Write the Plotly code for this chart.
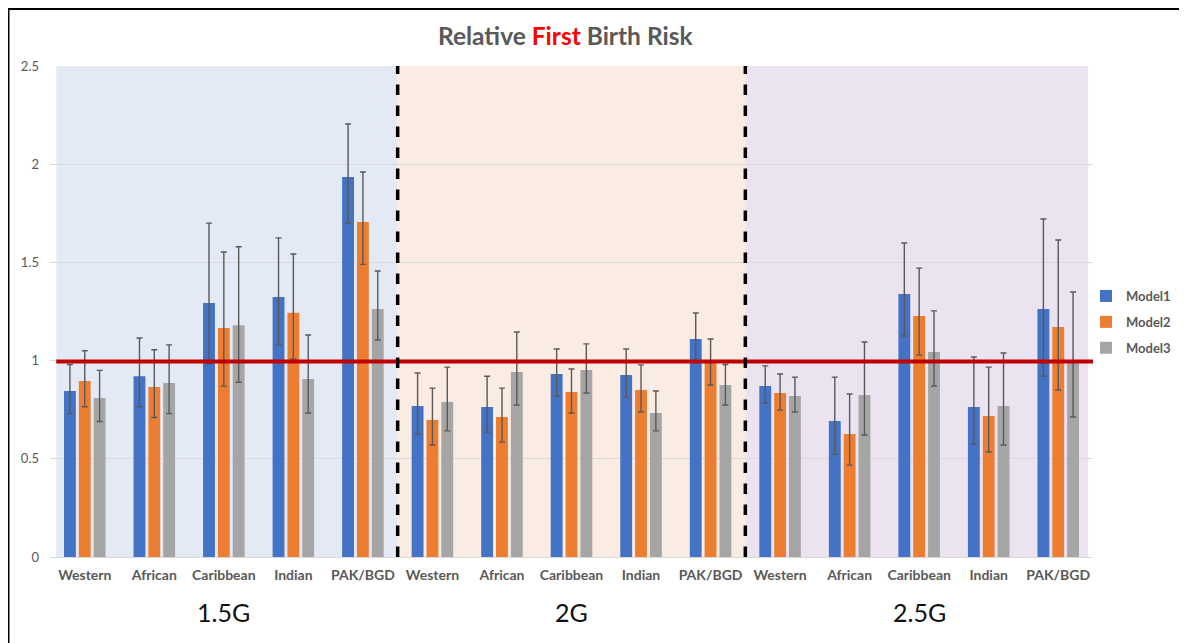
import plotly.graph_objects as go

# ---- data ----
groups = ["1.5G", "2G", "2.5G"]
ethnicities = ["Western", "African", "Caribbean", "Indian", "PAK/BGD"]
categories = ethnicities * 3
series_names = ["Model1", "Model2", "Model3"]

model1 = [0.845, 0.92, 1.293, 1.324, 1.935,
          0.769, 0.764, 0.932, 0.927, 1.11,
          0.871, 0.692, 1.339, 0.764, 1.263]
model1_hi = [0.98, 1.115, 1.70, 1.625, 2.205,
             0.937, 0.92, 1.059, 1.059, 1.242,
             0.973, 0.916, 1.599, 1.018, 1.721]
model1_lo = [0.73, 0.765, 0.985, 1.08, 1.70,
             0.626, 0.636, 0.82, 0.814, 0.993,
             0.784, 0.524, 1.125, 0.575, 0.92]

model2 = [0.896, 0.866, 1.166, 1.243, 1.706,
          0.698, 0.713, 0.84, 0.85, 0.997,
          0.835, 0.626, 1.227, 0.718, 1.171]
model2_hi = [1.05, 1.055, 1.553, 1.543, 1.96,
             0.86, 0.86, 0.957, 0.978, 1.11,
             0.932, 0.83, 1.471, 0.967, 1.614]
model2_lo = [0.765, 0.71, 0.87, 1.008, 1.49,
             0.57, 0.585, 0.733, 0.738, 0.876,
             0.748, 0.468, 1.028, 0.535, 0.85]

model3 = [0.81, 0.886, 1.18, 0.906, 1.263,
          0.789, 0.942, 0.952, 0.733, 0.876,
          0.82, 0.825, 1.044, 0.769, 0.988]
model3_hi = [0.95, 1.08, 1.58, 1.13, 1.456,
             0.967, 1.146, 1.085, 0.845, 0.98,
             0.916, 1.095, 1.253, 1.039, 1.349]
model3_lo = [0.69, 0.73, 0.89, 0.733, 1.105,
             0.642, 0.774, 0.835, 0.642, 0.774,
             0.738, 0.621, 0.871, 0.57, 0.713]

y_ticks = [0, 0.5, 1, 1.5, 2, 2.5]
reference_value = 1.0

colors = ["#4472C4", "#ED7D31", "#A5A5A5"]
group_bg = ["#E4EAF5", "#FBECE3", "#EBE3F0"]

# The page body has an 8px margin, so figure coords = page coords - 8
OFF = 8
W, H = 1187 - OFF, 643 - OFF
ML = 50 - OFF
MR = W - (1093 - OFF)
MT = 66 - OFF
MB = H - (557 - OFF)
PW = W - ML - MR
PH = H - MT - MB
FONT = "Lato, Open Sans, sans-serif"

def px_x(p):  # page px -> paper x
    return (p - OFF - ML) / PW

def px_y(p):  # page px -> paper y
    return (H - MB - (p - OFF)) / PH

x_idx = list(range(len(categories)))

fig = go.Figure()
for name, vals, hi, lo, col in [
    (series_names[0], model1, model1_hi, model1_lo, colors[0]),
    (series_names[1], model2, model2_hi, model2_lo, colors[1]),
    (series_names[2], model3, model3_hi, model3_lo, colors[2]),
]:
    fig.add_trace(go.Bar(
        x=x_idx, y=vals, name=name, legendgroup=name,
        marker=dict(color=col, line=dict(width=0)),
        error_y=dict(type="data", symmetric=False,
                     array=[h - v for h, v in zip(hi, vals)],
                     arrayminus=[v - l for l, v in zip(lo, vals)],
                     color="#595959", thickness=1.4, width=3),
    ))

shapes = []
n_per = len(ethnicities)
for gi in range(len(groups)):
    x0 = gi * n_per - 0.5
    x1 = (gi + 1) * n_per - 0.5
    if gi == 0:
        x0 += 0.09
    if gi == len(groups) - 1:
        x1 -= 0.07
    shapes.append(dict(type="rect", xref="x", yref="y", x0=x0, x1=x1,
                       y0=0, y1=2.5, fillcolor=group_bg[gi],
                       line=dict(width=0), layer="below"))
# red reference line
shapes.append(dict(type="line", xref="paper", yref="y", x0=0.006, x1=1.0,
                   y0=reference_value - 0.005, y1=reference_value - 0.005,
                   line=dict(color="#C00000", width=4), layer="above"))
# dashed separators
for gi in range(1, len(groups)):
    xs = gi * n_per - 0.5
    shapes.append(dict(type="line", xref="x", yref="y", x0=xs, x1=xs,
                       y0=0, y1=2.5, line=dict(color="black", width=3.5, dash="dash"),
                       layer="above"))
# outer frame (left & top black border)
shapes.append(dict(type="line", xref="paper", yref="paper",
                   x0=px_x(8.5), x1=px_x(8.5), y0=px_y(660), y1=px_y(8.5),
                   line=dict(color="black", width=2)))
shapes.append(dict(type="line", xref="paper", yref="paper",
                   x0=px_x(8), x1=px_x(1200), y0=px_y(9), y1=px_y(9),
                   line=dict(color="black", width=2)))

annotations = []
for gi, g in enumerate(groups):
    annotations.append(dict(text=g, xref="x", yref="paper",
                            x=gi * n_per + (n_per - 1) / 2, y=px_y(612),
                            showarrow=False, yanchor="middle",
                            font=dict(family=FONT, size=25, color="#111111")))
annotations.append(dict(
    text="<b>Relative <span style='color:#FF0000'>First</span> Birth Risk</b>",
    xref="paper", yref="paper", x=px_x(565), y=px_y(35), showarrow=False,
    xanchor="center", yanchor="middle",
    font=dict(family=FONT, size=24.5, color="#595959")))

fig.update_layout(
    width=W, height=H,
    margin=dict(l=ML, r=MR, t=MT, b=MB, autoexpand=False),
    paper_bgcolor="white", plot_bgcolor="white",
    barmode="group", bargap=0.36, bargroupgap=0.2,
    shapes=shapes, annotations=annotations,
    legend=dict(xref="container", yref="container",
                x=(1086 - OFF) / W, y=1 - (281 - OFF) / H,
                xanchor="left", yanchor="top",
                font=dict(family=FONT, size=13, color="#595959", weight="bold"),
                tracegroupgap=6, itemwidth=30, bgcolor="rgba(0,0,0,0)"),
    xaxis=dict(tickmode="array", tickvals=x_idx, ticktext=categories,
               range=[-0.5, len(categories) - 0.5], showgrid=False, zeroline=False,
               ticks="", showline=False, automargin=False, ticklabelstandoff=8,
               tickfont=dict(family=FONT, size=14, color="#595959", weight="bold")),
    yaxis=dict(range=[0, 2.5], tickvals=y_ticks, ticktext=["0", "0.5", "1", "1.5", "2", "2.5"],
               showgrid=True, gridcolor="#D9D9D9", gridwidth=1,
               zeroline=True, zerolinecolor="#D9D9D9", zerolinewidth=1,
               showline=False, ticks="", ticklabelstandoff=10, automargin=False,
               tickfont=dict(family=FONT, size=13, color="#595959")),
    showlegend=True,
)

fig.write_html("out.html")
